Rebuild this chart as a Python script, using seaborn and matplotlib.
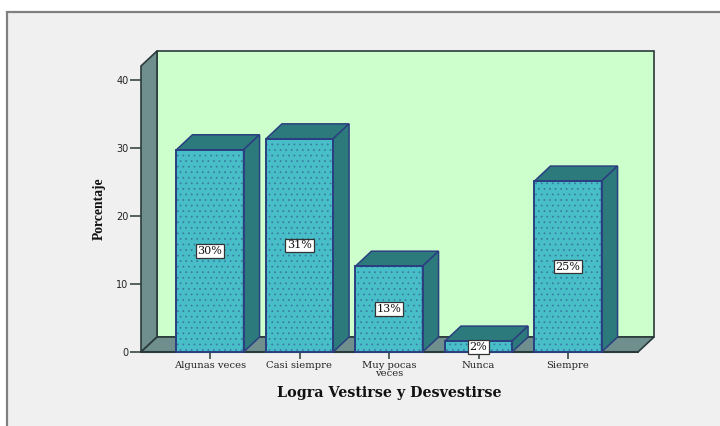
import matplotlib
matplotlib.use("Agg")
import matplotlib.pyplot as plt
from matplotlib.patches import Polygon, Rectangle
from matplotlib.lines import Line2D
import seaborn as sns
import pandas as pd

categories = ["Algunas veces", "Casi siempre", "Muy pocas\nveces", "Nunca", "Siempre"]
values = [29.7, 31.3, 12.6, 1.6, 25.1]
labels = ["30%", "31%", "13%", "2%", "25%"]
y_ticks = [0, 10, 20, 30, 40]
x_title = "Logra Vestirse y Desvestirse"
y_title = "Porcentaje"

W, H = 720, 426
BG = "#F0F0F0"; WALL = "#6F8F8F"; BACK = "#CCFFCC"; FACE = "#47BEC8"
DARK = "#2C7A7C"; NAVY = "#2B3F80"; LINE = "#2A3A3A"; DOT = "#3A78A0"

sns.set_theme(style="white")
plt.rcParams["hatch.linewidth"] = 0.5
fig = plt.figure(figsize=(W / 100, H / 100), dpi=100, facecolor="white")
fig.patches.append(Rectangle((7 / W, -0.05), 1, 1.05 - 12 / H, transform=fig.transFigure,
                             fc=BG, ec="#808080", lw=1.6, clip_on=False, zorder=-1))

x0, x1, ybot, ytop = 141, 638, 352, 66
ax = fig.add_axes([x0 / W, 1 - ybot / H, (x1 - x0) / W, (ybot - ytop) / H])
ax.patch.set_alpha(0)

df = pd.DataFrame({"cat": categories, "val": values})
sns.barplot(data=df, x="cat", y="val", ax=ax, color=FACE, saturation=1, width=0.75,
            edgecolor=DOT, linewidth=0, zorder=5)
ax.set_xlim((141 - 210) / 89.5, (638 - 210) / 89.5)
ax.set_ylim(0, 42)

dx = 16 / 89.5
dy = 15 / 6.81
xa, xb = ax.get_xlim()
ya, yb = ax.get_ylim()


def poly(pts, fc, ec=LINE, lw=1.2, z=1):
    ax.add_patch(Polygon(pts, closed=True, fc=fc, ec=ec, lw=lw, zorder=z, clip_on=False,
                         joinstyle="miter"))


bars = list(ax.patches)
poly([(xa + dx, ya + dy), (xb + dx, ya + dy), (xb + dx, yb + dy), (xa + dx, yb + dy)], BACK)
poly([(xa, ya), (xa + dx, ya + dy), (xa + dx, yb + dy), (xa, yb)], WALL)
poly([(xa, ya), (xb, ya), (xb + dx, ya + dy), (xa + dx, ya + dy)], WALL)

for bar, lab in zip(bars, labels):
    bar.set_hatch("...")
    bar.set_clip_on(False)
    l, w, h = bar.get_x(), bar.get_width(), bar.get_height()
    r = l + w
    poly([(l, h), (r, h), (r + dx, h + dy), (l + dx, h + dy)], DARK, NAVY, 1.1, 6)
    poly([(r, 0), (r + dx, dy), (r + dx, h + dy), (r, h)], DARK, NAVY, 1.1, 6)
    ax.add_patch(Rectangle((l, 0), w, h, fill=False, ec=NAVY, lw=1.4, zorder=7, clip_on=False))
    ax.text(l + w / 2, h / 2 if h > 3 else 0.75, lab, ha="center", va="center", zorder=9,
            family="DejaVu Serif", fontsize=8, color="#111111",
            bbox=dict(boxstyle="square,pad=0.15", fc="white", ec="#333333", lw=0.9))

for s in ax.spines.values():
    s.set_visible(False)
ax.add_line(Line2D([xa, xb], [0, 0], color=LINE, lw=1.5, zorder=4, clip_on=False))
ax.set_yticks(y_ticks)
ax.set_yticklabels([str(v) for v in y_ticks], family="DejaVu Sans", fontsize=7, color="#222222")
ax.tick_params(axis="y", left=True, length=8, width=1.1, color=LINE, pad=1)
ax.set_xticks(range(len(categories)))
ax.set_xticklabels(categories, family="DejaVu Serif", fontsize=7.2, color="#222222", linespacing=0.8)
ax.tick_params(axis="x", bottom=True, length=5, width=1.1, color=LINE, pad=1.5)
ax.set_xlabel("")
ax.set_ylabel("")
fig.text(389 / W, 1 - 393 / H, x_title, ha="center", va="center", family="DejaVu Serif",
         fontweight="bold", fontsize=10.3, color="#111111")
fig.text(99 / W, 1 - 209 / H, y_title, ha="center", va="center", rotation=90,
         family="Liberation Serif", fontweight="bold", fontsize=9.8, color="#111111")

fig.savefig("out.png", dpi=100, facecolor="white")
